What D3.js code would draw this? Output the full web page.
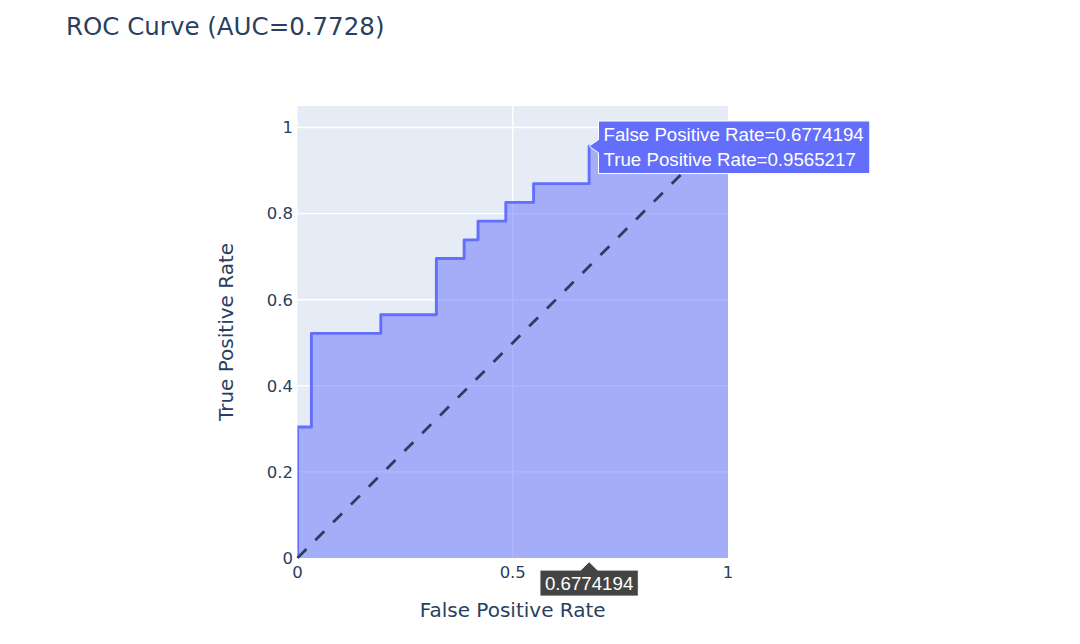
<!DOCTYPE html>
<html>
<head>
<meta charset="utf-8">
<script src="https://cdn.jsdelivr.net/npm/d3@7"></script>
<style>
  html, body { margin: 0; padding: 0; background: #fff; }
  svg { display: block; }
</style>
</head>
<body>
<svg id="chart" width="1080" height="644"></svg>
<script>
// ---- data ----
const titleText = "ROC Curve (AUC=0.7728)";
const xTitle = "False Positive Rate";
const yTitle = "True Positive Rate";
const fpr = [0, 0, 0.0323, 0.0323, 0.1935, 0.1935, 0.3226, 0.3226, 0.3871, 0.3871, 0.4194, 0.4194, 0.4839, 0.4839, 0.5484, 0.5484, 0.6774194, 0.6774194, 0.7097, 0.7097, 1];
const tpr = [0, 0.3043, 0.3043, 0.5217, 0.5217, 0.5652, 0.5652, 0.6957, 0.6957, 0.7391, 0.7391, 0.7826, 0.7826, 0.8261, 0.8261, 0.8696, 0.8696, 0.9565217, 0.9565217, 1, 1];
const xTicks = [0, 0.5, 1];
const yTicks = [0, 0.2, 0.4, 0.6, 0.8, 1];
const diagX = [0, 1];
const diagY = [0, 1];
const hoverIndex = 17;   // point under the cursor

// ---- layout ----
const svg = d3.select("#chart");
const L = 297.5, R = 728, T = 106, B = 558;
const x = d3.scaleLinear().domain([0, 1]).range([L, R]);
const y = d3.scaleLinear().domain([0, 1.05]).range([B, T]);
const fontMain = "'DejaVu Sans', Verdana, sans-serif";
const fontHover = "'Liberation Sans', Arial, sans-serif";
const txtCol = "#2a3f5f";
const lineCol = "#636efa";
const hoverSize = 18.7;

svg.append("rect").attr("width", 1080).attr("height", 644).attr("fill", "#fff");
svg.append("rect").attr("x", L).attr("y", T).attr("width", R - L).attr("height", B - T).attr("fill", "#e5ecf6");

svg.append("defs").append("clipPath").attr("id", "clip")
  .append("rect").attr("x", L).attr("y", T).attr("width", R - L).attr("height", B - T);

// grid
const grid = svg.append("g");
grid.selectAll(".gx").data(xTicks.filter(d => d > 0 && d < 1)).join("line")
  .attr("x1", d => x(d)).attr("x2", d => x(d)).attr("y1", T).attr("y2", B)
  .attr("stroke", "#fff").attr("stroke-width", 1.4);
grid.selectAll(".gy").data(yTicks.filter(d => d > 0)).join("line")
  .attr("x1", L).attr("x2", R).attr("y1", d => y(d)).attr("y2", d => y(d))
  .attr("stroke", "#fff").attr("stroke-width", 1.4);

// area + line
const pts = fpr.map((v, i) => [v, tpr[i]]);
const plot = svg.append("g").attr("clip-path", "url(#clip)");
plot.append("path").datum(pts)
  .attr("d", d3.area().x(d => x(d[0])).y0(y(0)).y1(d => y(d[1])))
  .attr("fill", "rgba(99,110,250,0.5)");
plot.append("path").datum(pts)
  .attr("d", d3.line().x(d => x(d[0])).y(d => y(d[1])))
  .attr("fill", "none").attr("stroke", lineCol).attr("stroke-width", 2.9)
  .attr("stroke-linejoin", "round");

// diagonal dashed shape
svg.append("line")
  .attr("x1", x(diagX[0])).attr("y1", y(diagY[0]))
  .attr("x2", x(diagX[1])).attr("y2", y(diagY[1]))
  .attr("stroke", txtCol).attr("stroke-width", 2.8)
  .attr("stroke-dasharray", "12.6,12.6");

// tick labels
svg.append("g").selectAll("text").data(yTicks).join("text")
  .attr("x", 293).attr("y", d => y(d) + 5.8)
  .attr("text-anchor", "end").attr("font-family", fontMain).attr("font-size", 16.5)
  .attr("fill", txtCol).text(d => d3.format("~g")(d));
svg.append("g").selectAll("text").data(xTicks).join("text")
  .attr("x", d => x(d)).attr("y", 578)
  .attr("text-anchor", "middle").attr("font-family", fontMain).attr("font-size", 16.5)
  .attr("fill", txtCol).text(d => d3.format("~g")(d));

// axis titles
svg.append("text").attr("x", x(0.5)).attr("y", 617)
  .attr("text-anchor", "middle").attr("font-family", fontMain).attr("font-size", 20)
  .attr("fill", txtCol).text(xTitle);
svg.append("text").attr("transform", `translate(233,${(T + B) / 2}) rotate(-90)`)
  .attr("text-anchor", "middle").attr("font-family", fontMain).attr("font-size", 20)
  .attr("fill", txtCol).text(yTitle);

// title
svg.append("text").attr("x", 66).attr("y", 34.5)
  .attr("font-family", fontMain).attr("font-size", 24.5)
  .attr("fill", txtCol).text(titleText);

// ---- hover labels ----
const hx = x(fpr[hoverIndex]), hy = y(tpr[hoverIndex]);
const fmt = d3.format(".7f");
const lines = ["False Positive Rate=" + fmt(fpr[hoverIndex]), "True Positive Rate=" + fmt(tpr[hoverIndex])];
const hg = svg.append("g");
const tmp = hg.append("g");
const tl = lines.map((s, i) => tmp.append("text").attr("font-family", fontHover).attr("font-size", hoverSize)
  .attr("fill", "#fff").text(s));
const tw = d3.max(tl, t => t.node().getComputedTextLength());
tmp.remove();
const a = 8.4;
const bx = hx + a + 1, by = 121, bw = tw + 11, bh = 52.5;
hg.append("path")
  .attr("d", `M${hx},${hy}L${bx},${hy - 6.6}V${by}H${bx + bw}V${by + bh}H${bx}V${hy + 6.6}Z`)
  .attr("fill", lineCol).attr("stroke", "#fff").attr("stroke-width", 1);
lines.forEach((s, i) => {
  hg.append("text").attr("x", bx + 5).attr("y", 140.5 + i * 25)
    .attr("font-family", fontHover).attr("font-size", hoverSize).attr("fill", "#fff").text(s);
});

// x-axis spike label
const xs = fmt(fpr[hoverIndex]);
const xg = svg.append("g");
const xt = xg.append("text").attr("x", hx).attr("y", 589.5).attr("text-anchor", "middle")
  .attr("font-family", fontHover).attr("font-size", hoverSize).attr("fill", "#fff").text(xs);
const xw = xt.node().getComputedTextLength() + 10;
const ty = B + 3.7;
xg.insert("path", "text")
  .attr("d", `M${hx},${ty}L${hx + a},${ty + a}H${hx + xw / 2}V${ty + a + 26}H${hx - xw / 2}V${ty + a}H${hx - a}Z`)
  .attr("fill", "#444").attr("stroke", "#fff").attr("stroke-width", 1);
</script>
</body>
</html>
